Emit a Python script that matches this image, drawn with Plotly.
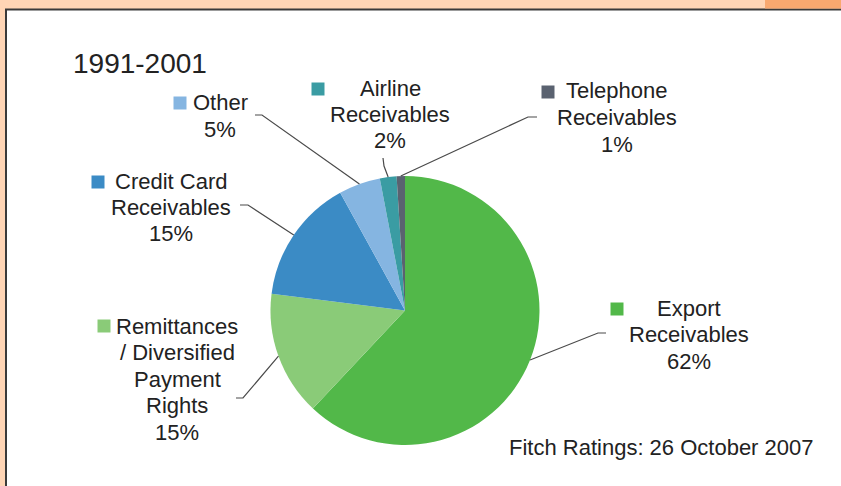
import plotly.graph_objects as go
import math

# Receivables mix, 1991-2001
categories = ["Export Receivables", "Remittances / Diversified Payment Rights",
              "Credit Card Receivables", "Other", "Airline Receivables",
              "Telephone Receivables"]
shares = [62, 15, 15, 5, 2, 1]
colors = ["#52B849", "#8ACB78", "#3B8BC5", "#85B5E1", "#3A9CA3", "#5A6270"]

# label text, split into the lines that are drawn
label_lines = [
    ["Export", "Receivables"],
    ["Remittances", "/ Diversified", "Payment", "Rights"],
    ["Credit Card", "Receivables"],
    ["Other"],
    ["Airline", "Receivables"],
    ["Telephone", "Receivables"],
]

W, H = 841, 486
CX, CY, R = 405, 310.5, 134.5

def px(x):
    return x / W

def py(y):
    return 1 - y / H

fig = go.Figure(go.Pie(
    labels=categories, values=shares, sort=False, direction="clockwise",
    rotation=0, textinfo="none", hoverinfo="skip",
    marker=dict(colors=colors, line=dict(width=0)),
    domain=dict(x=[px(CX - R), px(CX + R)], y=[py(CY + R), py(CY - R)]),
    showlegend=False,
))

shapes = []
# white panel with a dark top/left border and the orange tab
shapes.append(dict(type="rect", xref="paper", yref="paper", layer="below",
                   x0=px(6), x1=1.02, y0=-0.02, y1=py(9.5),
                   fillcolor="white", line=dict(color="#3a3a3a", width=2)))
shapes.append(dict(type="rect", xref="paper", yref="paper", layer="below",
                   x0=px(765), x1=1.0, y0=py(8.5), y1=1.0,
                   fillcolor="#F9A86F", line=dict(width=0)))

# label layout: (text centre x, first line y, key square centre, elbow, end)
layout_info = [
    (689, 308, (617, 309), (598, 333), (606, 333)),
    (177, 326, (104, 326), (243, 398), (236, 398)),
    (171, 181, (98, 182), (248, 205), (240, 205)),
    (220, 103, (180, 103), (262, 115), (255, 115)),
    (390, 88, (318, 89), (384, 166), (383, 158)),
    (617, 91, (548, 92), (528, 117), (537, 117)),
]

annotations = []
total = sum(shares)
cum = 0
LH = 26.5
for i, (cat, val) in enumerate(zip(categories, shares)):
    mid = (cum + val / 2) / total * 2 * math.pi
    cum += val
    ax, ay = CX + R * math.sin(mid), CY - R * math.cos(mid)
    tx, ty, sq, elbow, end = layout_info[i]
    lines = label_lines[i] + [f"{val}%"]
    for k, t in enumerate(lines):
        annotations.append(dict(x=px(tx), y=py(ty + k * LH), xref="paper", yref="paper",
                                text=t, showarrow=False, xanchor="center", yanchor="middle",
                                font=dict(size=22, color="#222222")))
    s = 6.5
    shapes.append(dict(type="rect", xref="paper", yref="paper",
                       x0=px(sq[0] - s), x1=px(sq[0] + s), y0=py(sq[1] + s), y1=py(sq[1] - s),
                       fillcolor=colors[i], line=dict(width=0)))
    shapes.append(dict(type="path", xref="paper", yref="paper",
                       path=f"M {px(ax)} {py(ay)} L {px(elbow[0])} {py(elbow[1])} L {px(end[0])} {py(end[1])}",
                       line=dict(color="#4a4a4a", width=1.2)))

annotations.append(dict(x=px(71), y=py(63), xref="paper", yref="paper", text="1991-2001",
                        showarrow=False, xanchor="left", yanchor="middle",
                        font=dict(size=28, color="#222222")))
annotations.append(dict(x=px(507), y=py(447), xref="paper", yref="paper",
                        text="Fitch Ratings: 26 October 2007",
                        showarrow=False, xanchor="left", yanchor="middle",
                        font=dict(size=22, color="#222222")))

fig.update_layout(
    width=W, height=H, margin=dict(l=0, r=0, t=0, b=0),
    paper_bgcolor="#FFD5B5", plot_bgcolor="white",
    font=dict(family="Liberation Sans, Arial, sans-serif"),
    shapes=shapes, annotations=annotations,
)

fig.write_html("out.html")
